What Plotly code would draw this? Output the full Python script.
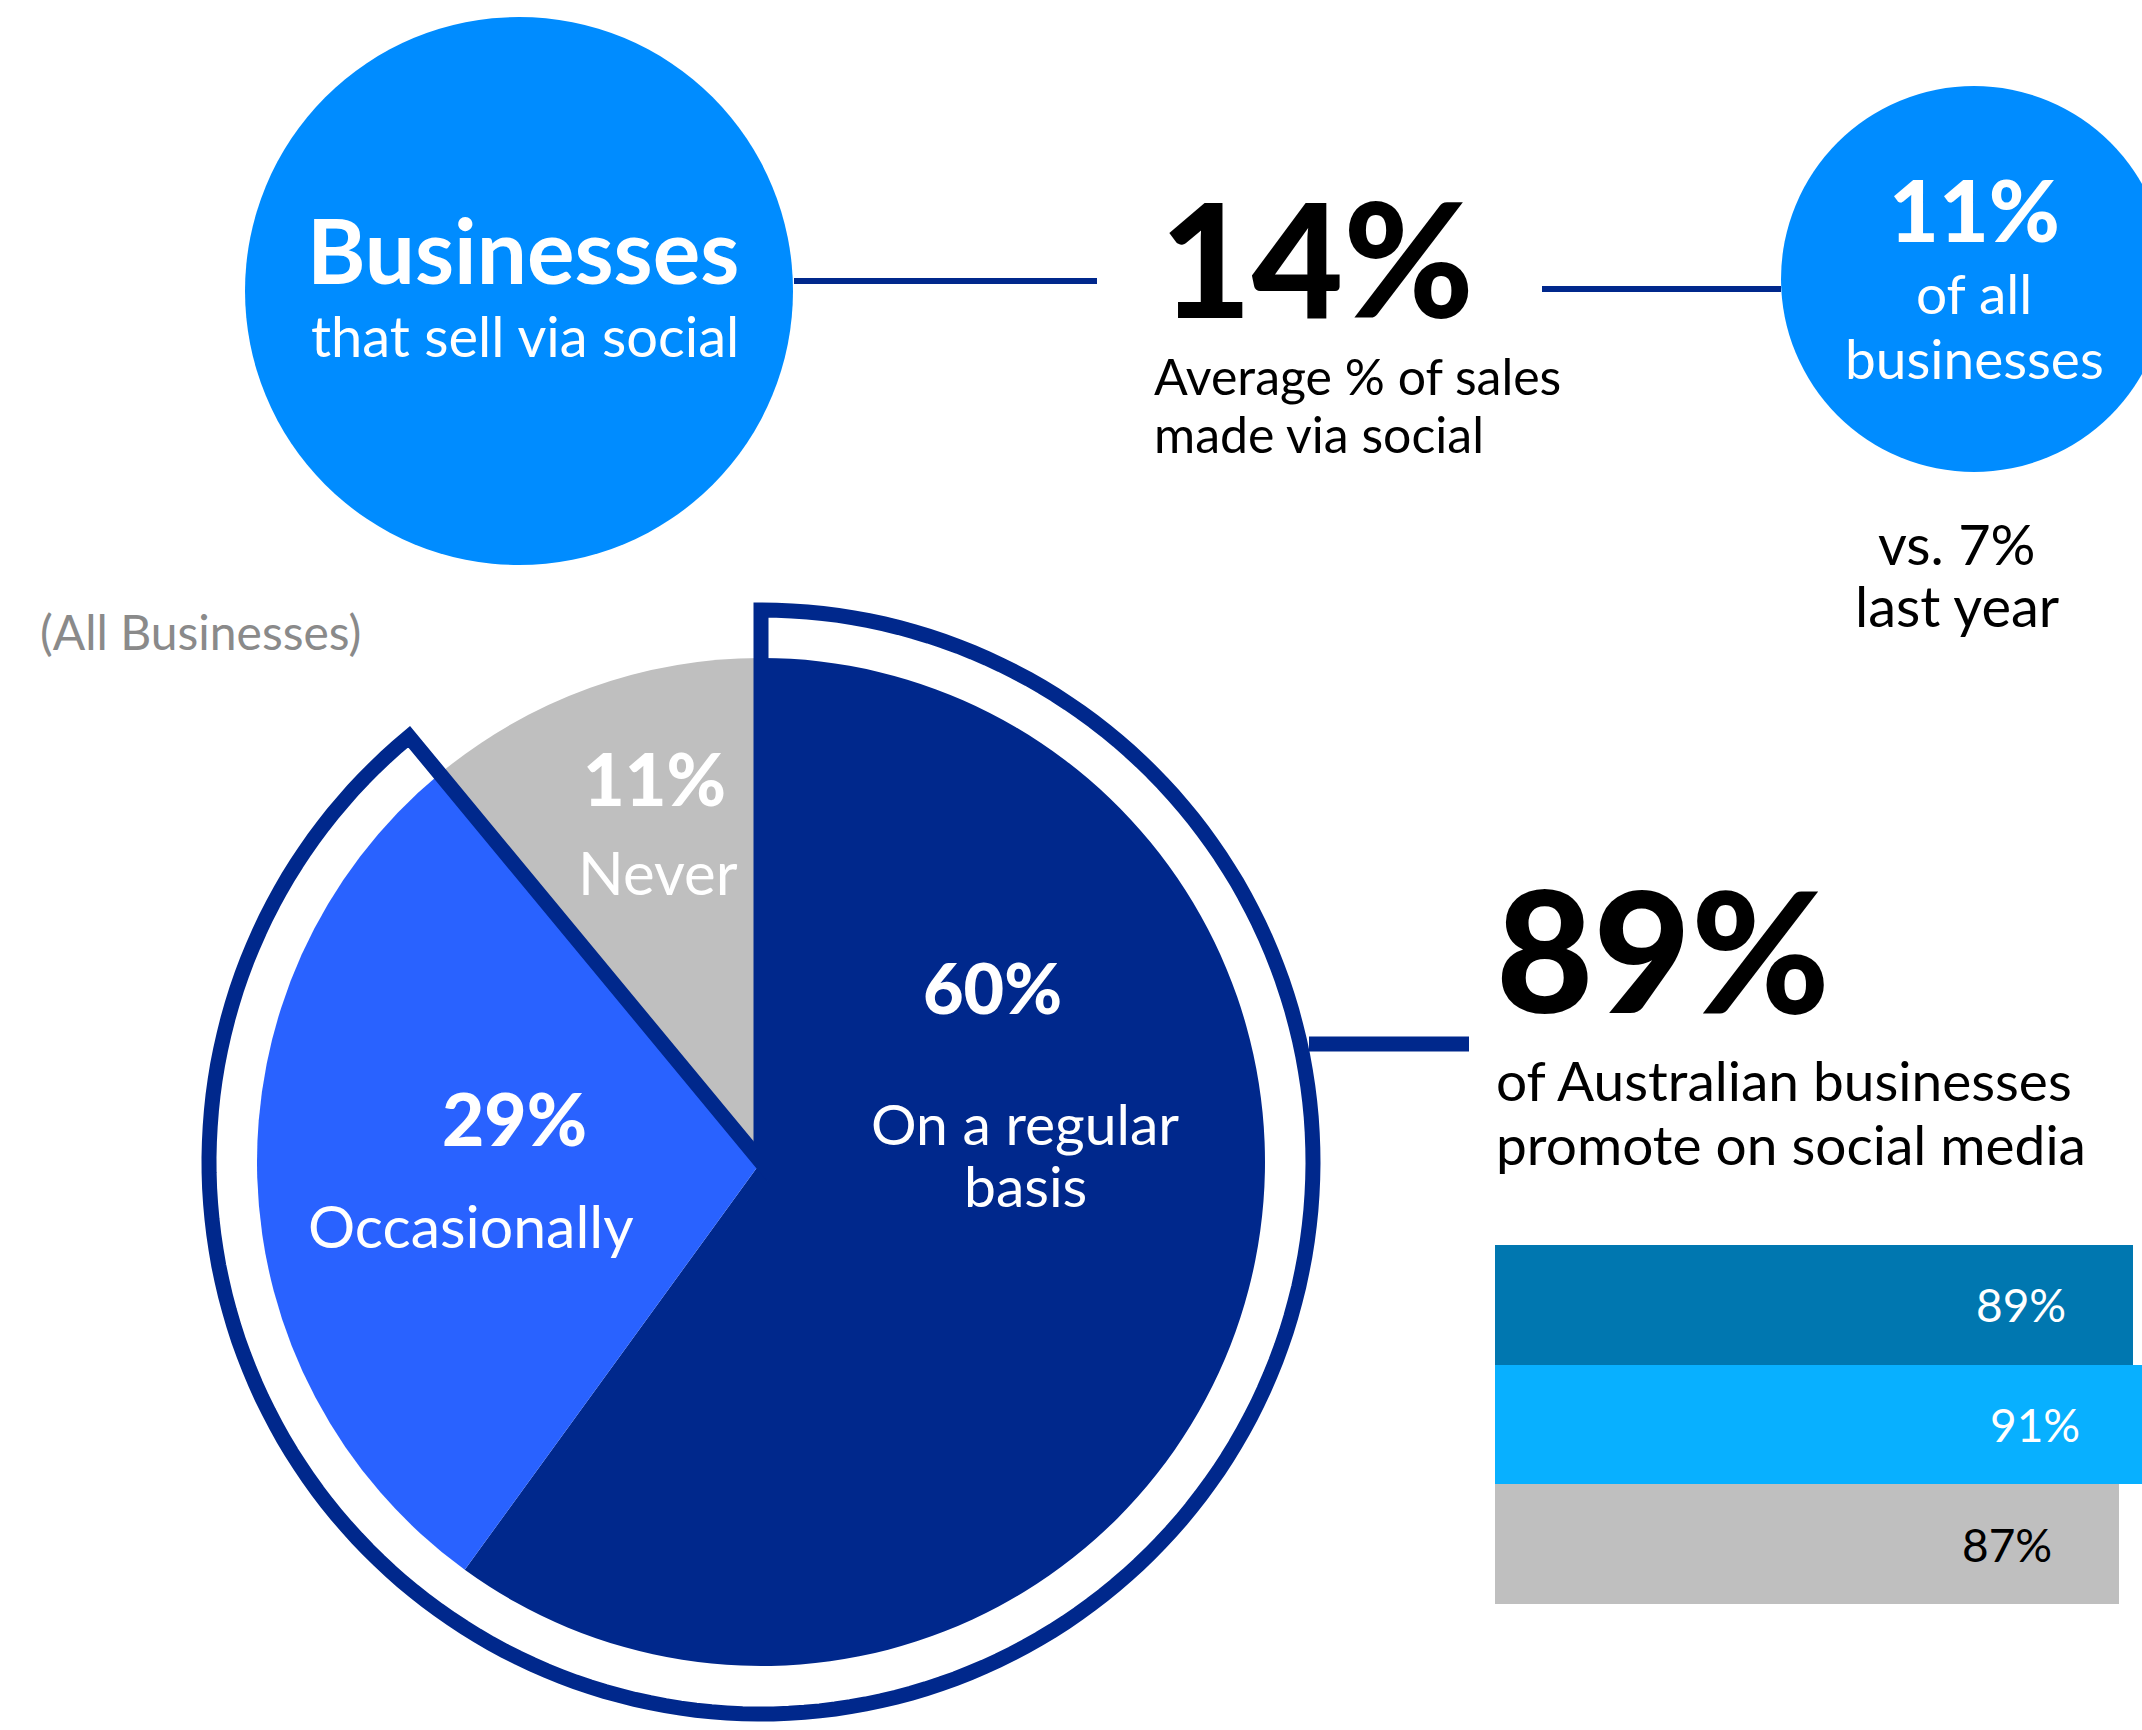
import numpy as np
import plotly.graph_objects as go

W, H = 2142, 1730

# --- data -------------------------------------------------------------
sell_label = "Businesses"
sell_sub = "that sell via social"
avg_sales_share = 14          # average % of sales made via social
sell_share = 11               # % of all businesses that sell via social
sell_share_last_year = 7

pie_labels = ["On a regular basis", "Occasionally", "Never"]
pie_lines = [["On a regular", "basis"], ["Occasionally"], ["Never"]]
pie_values = [60, 29, 11]
pie_colors = ["#00288c", "#2962ff", "#bfbfbf"]

promote_share = 89
bar_groups = ["group_1", "group_2", "group_3"]
bar_values = [89, 91, 87]
bar_colors = ["#0077b0", "#08b0ff", "#bfbfbf"]
bar_text_colors = ["white", "white", "black"]

NAVY = "#00288c"
CIRCLE = "#008cff"
FONT = "Lato"

# --- geometry of the page ----------------------------------------------
pie_cx, pie_cy, pie_r = 761, 1162, 504
ring_r = 552
bar_x0 = 1495
px_per_unit = 7.17
bar_top, bar_bottom = 1245, 1604

fig = go.Figure()

# pie
fig.add_trace(go.Pie(labels=pie_labels, values=pie_values, sort=False,
                     direction="clockwise", rotation=0,
                     marker=dict(colors=pie_colors, line=dict(width=0)),
                     textinfo="none", hoverinfo="skip", showlegend=False,
                     domain=dict(x=[(pie_cx - pie_r) / W, (pie_cx + pie_r) / W],
                                 y=[(H - pie_cy - pie_r) / H, (H - pie_cy + pie_r) / H])))

# bars
fig.add_trace(go.Bar(x=bar_values, y=bar_groups, orientation="h",
                     marker=dict(color=bar_colors, line=dict(width=0)),
                     width=1, hoverinfo="skip", showlegend=False,
                     xaxis="x2", yaxis="y2"))

# a dummy trace so the pixel axes exist
fig.add_trace(go.Scatter(x=[0, W], y=[0, H], mode="markers",
                         marker=dict(opacity=0), hoverinfo="skip", showlegend=False))

shapes = []
# circles
shapes.append(dict(type="circle", xref="x", yref="y", x0=519 - 274, x1=519 + 274,
                   y0=291 - 274, y1=291 + 274, fillcolor=CIRCLE, line=dict(width=0),
                   layer="below"))
shapes.append(dict(type="circle", xref="x", yref="y", x0=1974 - 193, x1=1974 + 193,
                   y0=279 - 193, y1=279 + 193, fillcolor=CIRCLE, line=dict(width=0),
                   layer="below"))
# connector lines
shapes.append(dict(type="line", xref="x", yref="y", x0=794, x1=1097, y0=281, y1=281,
                   line=dict(color=NAVY, width=6), layer="above"))
shapes.append(dict(type="line", xref="x", yref="y", x0=1542, x1=1781, y0=289, y1=289,
                   line=dict(color=NAVY, width=6), layer="above"))
shapes.append(dict(type="line", xref="x", yref="y", x0=ring_r + pie_cx - 4, x1=1469,
                   y0=1044, y1=1044, line=dict(color=NAVY, width=15), layer="above"))

# outline around the "promote" share (regular + occasionally)
end_angle = np.radians(360 * (pie_values[0] + pie_values[1]) / sum(pie_values))
angles = np.linspace(0, end_angle, 200)
pts = [f"{pie_cx + ring_r * np.sin(a):.1f},{pie_cy - ring_r * np.cos(a):.1f}" for a in angles]
path = f"M{pie_cx},{pie_cy} L" + " L".join(pts) + " Z"
shapes.append(dict(type="path", xref="x", yref="y", path=path,
                   line=dict(color=NAVY, width=15), fillcolor="rgba(0,0,0,0)",
                   layer="above"))

annotations = []


def label(text, x, baseline, size, color="black", weight=400, anchor="center"):
    annotations.append(dict(text=text, x=x, y=baseline - 0.39 * size, xref="x", yref="y",
                            xanchor=anchor, yanchor="middle", showarrow=False,
                            font=dict(family=FONT, size=size, color=color, weight=weight)))


label(sell_label, 523, 284, 89, "white", 700)
label(sell_sub, 525, 357, 56, "white")
label(f"{avg_sales_share}%", 1158, 319, 158, "black", 900, "left")
label("Average % of sales", 1152, 395, 50, "black", 400, "left")
label("made via social", 1152, 453, 50, "black", 400, "left")
label(f"{sell_share}%", 1974, 242, 86, "white", 900)
label("of all", 1974, 314, 55, "white")
label("businesses", 1974, 379, 55, "white")
label(f"vs. {sell_share_last_year}%", 1957, 565, 56)
label("last year", 1957, 627, 56)
label("(All Businesses)", 38, 650, 48, "#8a8a8a", 400, "left")

label(f"{pie_values[0]}%", 992, 1014, 70, "white", 900)
label(pie_lines[0][0], 1025, 1145, 57, "white")
label(pie_lines[0][1], 1025, 1207, 57, "white")
label(f"{pie_values[1]}%", 514, 1146, 73, "white", 900)
label(pie_lines[1][0], 471, 1249, 59, "white")
label(f"{pie_values[2]}%", 654, 806, 72, "white", 900)
label(pie_lines[2][0], 658, 895, 60, "white")

label(f"{promote_share}%", 1494, 1014, 168, "black", 900, "left")
label("of Australian businesses", 1494, 1101, 55, "black", 400, "left")
label("promote on social media", 1494, 1165, 55, "black", 400, "left")

# bar value labels, placed through the bar axis
pad_units = 65 / px_per_unit
for g, v, c in zip(bar_groups, bar_values, bar_text_colors):
    annotations.append(dict(text=f"{v}%", x=v - pad_units, y=g, xref="x2", yref="y2",
                            xanchor="right", yanchor="middle", showarrow=False,
                            font=dict(family=FONT, size=46, color=c)))

fig.update_layout(
    width=W, height=H,
    margin=dict(l=0, r=0, t=0, b=0),
    paper_bgcolor="white", plot_bgcolor="rgba(0,0,0,0)",
    xaxis=dict(range=[0, W], visible=False, domain=[0, 1], fixedrange=True),
    yaxis=dict(range=[H, 0], visible=False, domain=[0, 1], fixedrange=True),
    xaxis2=dict(range=[0, (W - bar_x0) / px_per_unit], visible=False,
                domain=[bar_x0 / W, 1], anchor="y2", fixedrange=True),
    yaxis2=dict(visible=False, domain=[(H - bar_bottom) / H, (H - bar_top) / H],
                anchor="x2", categoryorder="array", categoryarray=bar_groups,
                autorange="reversed", fixedrange=True),
    bargap=0,
    shapes=shapes,
    annotations=annotations,
    showlegend=False,
)

# the page's default body margin would push the figure off by 8px
fig.write_html("out.html", config=dict(displayModeBar=False),
               post_script="document.body.style.margin='0px';")
